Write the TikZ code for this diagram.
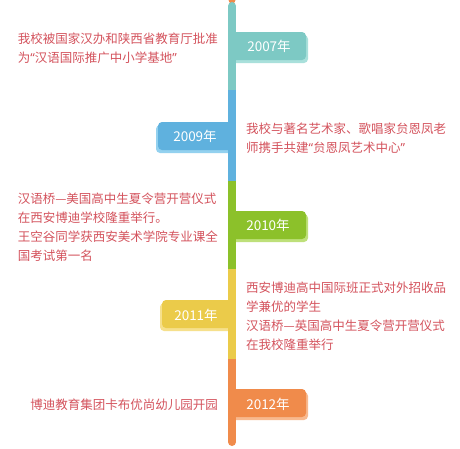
\documentclass[tikz,border=0pt]{standalone}
\usepackage{fontspec}
\newfontfamily\cjk{Noto Sans CJK SC}
\newfontfamily\lat{Noto Sans}
\newcommand\qqL{{\lat “}}
\newcommand\qqR{{\lat ”}}
\definecolor{cTeal}{HTML}{7DC9C4}
\definecolor{cTealL}{HTML}{A9E0DB}
\definecolor{cBlue}{HTML}{5FB1DE}
\definecolor{cBlueL}{HTML}{93D1EF}
\definecolor{cGreen}{HTML}{8CC12A}
\definecolor{cGreenL}{HTML}{BEE07A}
\definecolor{cYellow}{HTML}{EBCB4A}
\definecolor{cYellowL}{HTML}{F6E08C}
\definecolor{cOrange}{HTML}{F08B4B}
\definecolor{cOrangeL}{HTML}{F8B98F}
\definecolor{txt}{HTML}{D4535D}
\tikzset{
  lt/.style={text=txt, font=\cjk\fontsize{12.5}{19}\selectfont, align=left, inner sep=0pt},
  yr/.style={text=white, font=\cjk\fontsize{13.5}{16}\selectfont, inner sep=0pt},
}
\begin{document}
\begin{tikzpicture}[x=1pt,y=-1pt]
\fill[white] (0,0) rectangle (460,448);
\useasboundingbox (0,0) rectangle (460,448);
% top dot
\fill[cOrange] (232,0) circle (3.5);
% shadows
\fill[cTealL] (234,35) [rounded corners=4] -- (308,35) -- (308,63) [sharp corners] -- (234,63) -- cycle;
\fill[cBlueL] (230,125) [rounded corners=4] -- (156,125) -- (156,153) [sharp corners] -- (230,153) -- cycle;
\fill[cGreenL] (234,214) [rounded corners=4] -- (308,214) -- (308,242) [sharp corners] -- (234,242) -- cycle;
\fill[cYellowL] (230,303) [rounded corners=4] -- (160,303) -- (160,331) [sharp corners] -- (230,331) -- cycle;
\fill[cOrangeL] (234,392) [rounded corners=4] -- (308,392) -- (308,420) [sharp corners] -- (234,420) -- cycle;
% flags
\fill[cTeal] (232,32) [rounded corners=4] -- (306,32) -- (306,60) [sharp corners] -- (232,60) -- cycle;
\fill[cBlue] (232,122) [rounded corners=4] -- (158,122) -- (158,150) [sharp corners] -- (232,150) -- cycle;
\fill[cGreen] (232,211) [rounded corners=4] -- (306,211) -- (306,239) [sharp corners] -- (232,239) -- cycle;
\fill[cYellow] (232,300) [rounded corners=4] -- (162,300) -- (162,328) [sharp corners] -- (232,328) -- cycle;
\fill[cOrange] (232,389) [rounded corners=4] -- (306,389) -- (306,417) [sharp corners] -- (232,417) -- cycle;
% bar
\fill[cTeal] (232,6) circle (4);
\fill[cTeal] (228,6) rectangle (236,90);
\fill[cBlue] (228,90) rectangle (236,181);
\fill[cGreen] (228,181) rectangle (236,269);
\fill[cYellow] (228,269) rectangle (236,359);
\fill[cOrange] (228,359) rectangle (236,442);
\fill[cOrange] (232,442) circle (4);
% years
\node[yr] (y07) at (269,46.5) {2007年};
\node[yr] (y09) at (195,136) {2009年};
\node[yr] (y10) at (268,225.5) {2010年};
\node[yr] (y11) at (196,315) {2011年};
\node[yr] (y12) at (268,404.5) {2012年};
% texts
\node[lt, anchor=east] (t07) at (218,48.5) {我校被国家汉办和陕西省教育厅批准\\为\qqL 汉语国际推广中小学基地\qqR};
\node[lt, anchor=west] (t09) at (246,138) {我校与著名艺术家、歌唱家贠恩凤老\\师携手共建\qqL 贠恩凤艺术中心\qqR};
\node[lt, anchor=east] (t10) at (218,227) {汉语桥—美国高中生夏令营开营仪式\\在西安博迪学校隆重举行。\\王空谷同学获西安美术学院专业课全\\国考试第一名};
\node[lt, anchor=west] (t11) at (246,316.5) {西安博迪高中国际班正式对外招收品\\学兼优的学生\\汉语桥—英国高中生夏令营开营仪式\\在我校隆重举行};
\node[lt, anchor=east] (t12) at (218,405) {博迪教育集团卡布优尚幼儿园开园};
\end{tikzpicture}
\end{document}
